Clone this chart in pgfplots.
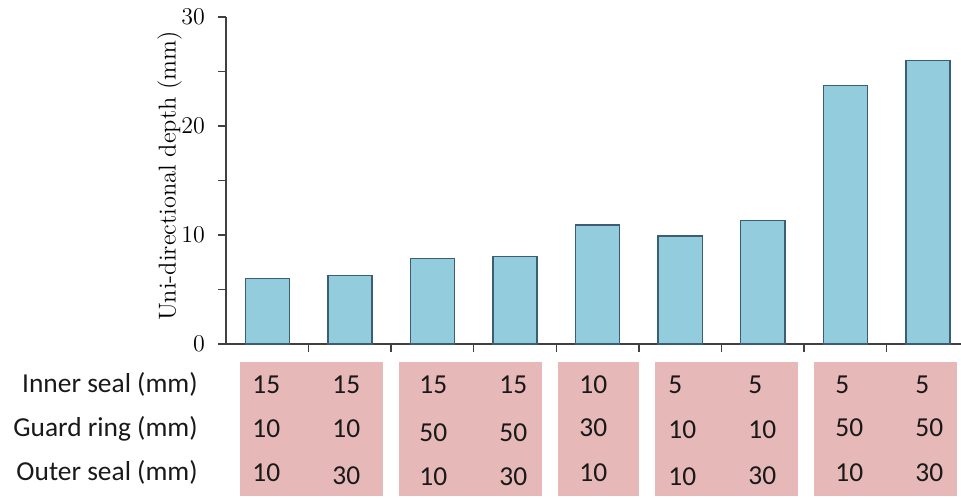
\documentclass[border=0pt]{standalone}
\usepackage{fontspec}
\usepackage{pgfplots}
\pgfplotsset{compat=1.18}
\newfontfamily\calibri{Carlito}
\definecolor{barfill}{HTML}{93CDDD}
\definecolor{bardraw}{HTML}{3B5E74}
\definecolor{boxpink}{HTML}{E6B9B8}
\definecolor{axisgray}{HTML}{404040}
\begin{document}
\begin{tikzpicture}
\begin{axis}[
  scale only axis,
  width=367.5pt, height=163.5pt,
  xmin=-0.5, xmax=8.4,
  ymin=0, ymax=30,
  axis x line=bottom, axis y line=left,
  axis line style={-, axisgray, line width=0.7pt},
  x axis line style={-},
  y axis line style={-},
  tick align=outside,
  ytick={0,10,20,30},
  minor ytick={5,15,25},
  major tick length=4pt, minor tick length=4pt,
  tick style={axisgray, line width=0.7pt},
  xtick={0.5,1.5,...,7.5},
  xticklabels={},
  yticklabel style={font=\fontsize{12.8}{14}\selectfont, xshift=-3pt},
  ylabel={Uni-directional depth (mm)},
  ylabel style={font=\fontsize{12.2}{14}\selectfont, at={(axis description cs:-0.077,0.514)}, anchor=center},
  clip=false,
]
\addplot[ybar, bar width=0.535, fill=barfill, draw=bardraw, line width=0.7pt] coordinates {
  (0,6.0) (1,6.3) (2,7.85) (3,8.0) (4,10.9) (5,9.9) (6,11.35) (7,23.7) (8,26.0)
};
% pink boxes
\fill[boxpink] (axis cs:-0.33,-1.65) rectangle (axis cs:1.40,-13.94);
\fill[boxpink] (axis cs:1.59,-1.65) rectangle (axis cs:3.33,-13.94);
\fill[boxpink] (axis cs:3.52,-1.65) rectangle (axis cs:4.50,-13.94);
\fill[boxpink] (axis cs:4.69,-1.65) rectangle (axis cs:6.43,-13.94);
\fill[boxpink] (axis cs:6.62,-1.65) rectangle (axis cs:8.35,-13.94);
% row labels
\begin{scope}[every node/.style={font=\calibri\fontsize{13.7}{16}\selectfont, inner sep=0pt, anchor=east, text=black!90}]
\node at (axis cs:-0.839,-3.67) {Inner seal (mm)};
\node at (axis cs:-0.839,-7.78) {Guard ring (mm)};
\node at (axis cs:-0.839,-11.82) {Outer seal (mm)};
\end{scope}
% table values
\begin{scope}[every node/.style={font=\calibri\fontsize{13.7}{16}\selectfont, inner sep=0pt, anchor=west, text=black!90}]
\node at (axis cs:-0.185,-3.76) {15};
\node at (axis cs:0.784,-3.76) {15};
\node at (axis cs:1.837,-3.76) {15};
\node at (axis cs:2.806,-3.76) {15};
\node at (axis cs:3.775,-3.76) {10};
\node at (axis cs:4.852,-3.76) {5};
\node at (axis cs:5.821,-3.76) {5};
\node at (axis cs:6.875,-3.76) {5};
\node at (axis cs:7.843,-3.76) {5};
\node at (axis cs:-0.185,-7.80) {10};
\node at (axis cs:0.784,-7.80) {10};
\node at (axis cs:1.837,-8.17) {50};
\node at (axis cs:2.806,-8.17) {50};
\node at (axis cs:3.775,-7.71) {30};
\node at (axis cs:4.852,-7.89) {10};
\node at (axis cs:5.821,-7.89) {10};
\node at (axis cs:6.875,-7.71) {50};
\node at (axis cs:7.843,-7.71) {50};
\node at (axis cs:-0.185,-11.83) {10};
\node at (axis cs:0.784,-12.11) {30};
\node at (axis cs:1.837,-12.2) {10};
\node at (axis cs:2.806,-12.2) {30};
\node at (axis cs:3.775,-11.83) {10};
\node at (axis cs:4.852,-12.2) {10};
\node at (axis cs:5.821,-12.11) {30};
\node at (axis cs:6.875,-11.83) {10};
\node at (axis cs:7.843,-11.83) {30};
\end{scope}
\coordinate (bbll) at (axis cs:-3.237,-14.04);
\coordinate (bbur) at (axis cs:8.4,31.56);
\end{axis}
\pgfresetboundingbox
\path (bbll) rectangle (bbur);
\end{tikzpicture}
\end{document}
